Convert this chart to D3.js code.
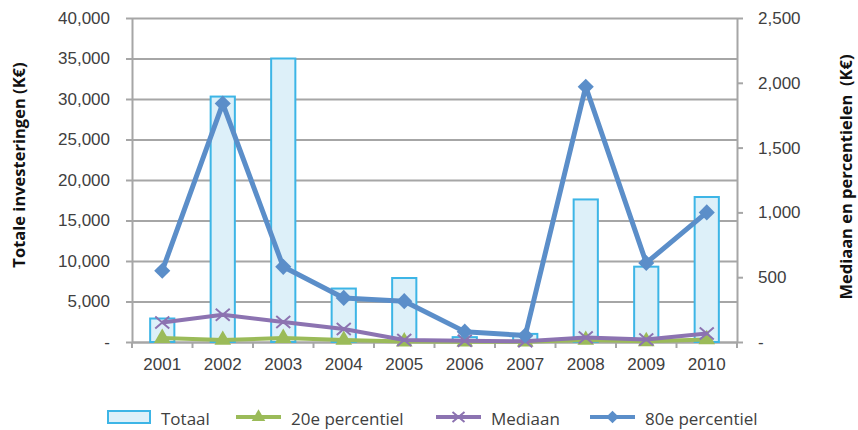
<!DOCTYPE html>
<html><head><meta charset="utf-8">
<script src="https://cdn.jsdelivr.net/npm/d3@7"></script>
<style>
body{margin:0;background:#fff}
svg{font-family:"Open Sans","Noto Sans",sans-serif;display:block}
</style>
</head><body>
<svg id="c" width="858" height="430"></svg>
<script>
// ---- data ----
const years = ["2001","2002","2003","2004","2005","2006","2007","2008","2009","2010"];
const totaal = [2900, 30300, 35000, 6600, 7900, 600, 1000, 17600, 9300, 17900];
const p20 = [30, 15, 30, 15, 3, 2, 2, 15, 5, 20];
const mediaan = [150, 210, 155, 100, 15, 10, 5, 35, 20, 65];
const p80 = [550, 1840, 580, 340, 315, 80, 50, 1970, 610, 1000];
const leftTicks = [0, 5000, 10000, 15000, 20000, 25000, 30000, 35000, 40000];
const rightTicks = [0, 500, 1000, 1500, 2000, 2500];
const seriesNames = ["Totaal", "20e percentiel", "Mediaan", "80e percentiel"];

// ---- layout ----
const L = 132, R = 737, T = 18, B = 342;
const C = {grid:"#a6a6a6", text:"#404040", barFill:"#ddf0f9", barStroke:"#3db5e6",
           green:"#9bbb59", purple:"#8c73b1", blue:"#5b8ec9"};
const svg = d3.select("#c");

const x = d3.scaleBand().domain(years).range([L, R]).paddingInner(0.6).paddingOuter(0.3);
const yL = d3.scaleLinear().domain([0, 40000]).range([B, T]);
const yR = d3.scaleLinear().domain([0, 2500]).range([B, T]);
const cx = d => x(d) + x.bandwidth() / 2;
const fmt = d => d === 0 ? "-" : d3.format(",")(d);

// grid
const grid = svg.append("g").attr("transform", `translate(${L},0)`)
  .call(d3.axisLeft(yL).tickValues(leftTicks).tickSize(-(R - L)).tickFormat(""));
grid.select(".domain").remove();
grid.selectAll("line").attr("stroke", C.grid).attr("stroke-width", 2);

// left axis
const ax = svg.append("g").attr("transform", `translate(${L},0)`)
  .call(d3.axisLeft(yL).tickValues(leftTicks).tickSizeInner(6).tickSizeOuter(0).tickPadding(16).tickFormat(fmt));
ax.select(".domain").attr("stroke", C.grid).attr("stroke-width", 2);
ax.selectAll("line").attr("stroke", C.grid).attr("stroke-width", 2);
ax.selectAll("text").attr("fill", C.text).style("font-size", "17px").attr("font-family", null);

// right axis
const ar = svg.append("g").attr("transform", `translate(${R},0)`)
  .call(d3.axisRight(yR).tickValues(rightTicks).tickSizeInner(6).tickSizeOuter(0).tickPadding(15).tickFormat(fmt));
ar.select(".domain").attr("stroke", C.grid).attr("stroke-width", 2);
ar.selectAll("line").attr("stroke", C.grid).attr("stroke-width", 2);
ar.selectAll("text").attr("fill", C.text).style("font-size", "17px").attr("font-family", null);

// bottom axis labels
const axb = svg.append("g").attr("transform", `translate(0,${B})`)
  .call(d3.axisBottom(x).tickSize(0).tickPadding(16));
axb.select(".domain").attr("stroke", C.grid).attr("stroke-width", 2);
axb.selectAll("text").attr("fill", C.text).style("font-size", "17px").attr("font-family", null);
// category boundary ticks
const bounds = years.map(d => cx(d) - x.step() / 2).concat([cx(years[years.length - 1]) + x.step() / 2]);
svg.append("g").selectAll("line").data(bounds).join("line")
  .attr("x1", d => d).attr("x2", d => d).attr("y1", B).attr("y2", B + 6)
  .attr("stroke", C.grid).attr("stroke-width", 2);

// bars
svg.append("g").selectAll("rect").data(years).join("rect")
  .attr("x", d => x(d)).attr("width", x.bandwidth())
  .attr("y", (d, i) => yL(totaal[i])).attr("height", (d, i) => B - yL(totaal[i]))
  .attr("fill", C.barFill).attr("stroke", C.barStroke).attr("stroke-width", 2);

// markers
const tri = d3.symbol().type(d3.symbolTriangle).size(120)();
const triSmall = d3.symbol().type(d3.symbolTriangle).size(80)();
const dia = d3.symbol().type(d3.symbolSquare).size(130)();
const diaSmall = d3.symbol().type(d3.symbolSquare).size(80)();
const xMark = "M-7,-6L7,6M-7,6L7,-6";
const xMarkSmall = "M-6,-5L6,5M-6,5L6,-5";

function drawLine(vals, color, width, marker, mStyle) {
  const g = svg.append("g");
  g.append("path").datum(vals)
    .attr("d", d3.line().x((v, i) => cx(years[i])).y(v => yR(v)))
    .attr("fill", "none").attr("stroke", color).attr("stroke-width", width).attr("stroke-linejoin", "round");
  g.selectAll("path.m").data(vals).join("path").attr("class", "m")
    .attr("d", marker)
    .attr("transform", (v, i) => `translate(${cx(years[i])},${yR(v)})` + (mStyle.rot ? " rotate(45)" : ""))
    .attr("fill", mStyle.fill ? color : "none")
    .attr("stroke", mStyle.fill ? "none" : color)
    .attr("stroke-width", mStyle.fill ? 0 : 2);
}
drawLine(p20, C.green, 4, tri, {fill: true});
drawLine(mediaan, C.purple, 4, xMark, {fill: false});
drawLine(p80, C.blue, 5, dia, {fill: true, rot: true});

// axis titles
svg.append("text").attr("transform", `translate(18,165) rotate(-90)`)
  .attr("text-anchor", "middle").attr("dominant-baseline", "central")
  .attr("font-weight", "bold").style("font-size", "16.5px").attr("fill", "#111")
  .text("Totale investeringen (K€)");
svg.append("text").attr("transform", `translate(845,177) rotate(-90)`)
  .attr("text-anchor", "middle").attr("dominant-baseline", "central")
  .attr("font-weight", "bold").style("font-size", "16.5px").attr("fill", "#111")
  .attr("xml:space", "preserve").style("white-space", "pre")
  .text("Mediaan en percentielen  (K€)");

// legend
const lg = svg.append("g").attr("transform", "translate(0,417)");
const legItems = [
  {name: seriesNames[0], x: 108, type: "bar"},
  {name: seriesNames[1], x: 236, type: "line", color: C.green, m: triSmall, fill: true},
  {name: seriesNames[2], x: 436, type: "line", color: C.purple, m: xMarkSmall, fill: false},
  {name: seriesNames[3], x: 590, type: "line", color: C.blue, m: diaSmall, fill: true, rot: true}
];
legItems.forEach(it => {
  const g = lg.append("g").attr("transform", `translate(${it.x},0)`);
  if (it.type === "bar") {
    g.append("rect").attr("x", 0).attr("y", -6).attr("width", 42).attr("height", 12)
      .attr("fill", C.barFill).attr("stroke", C.barStroke).attr("stroke-width", 2);
    g.append("text").attr("x", 53).attr("y", 1).attr("dominant-baseline", "central").attr("fill", C.text)
      .style("font-size", "17px").text(it.name);
  } else {
    g.append("line").attr("x1", 0).attr("x2", 45).attr("stroke", it.color).attr("stroke-width", 4);
    g.append("path").attr("d", it.m)
      .attr("transform", `translate(22.5,0)` + (it.rot ? " rotate(45)" : ""))
      .attr("fill", it.fill ? it.color : "none").attr("stroke", it.fill ? "none" : it.color).attr("stroke-width", 2);
    g.append("text").attr("x", 55).attr("y", 1).attr("dominant-baseline", "central").attr("fill", C.text)
      .style("font-size", "17px").text(it.name);
  }
});
</script>
</body></html>
